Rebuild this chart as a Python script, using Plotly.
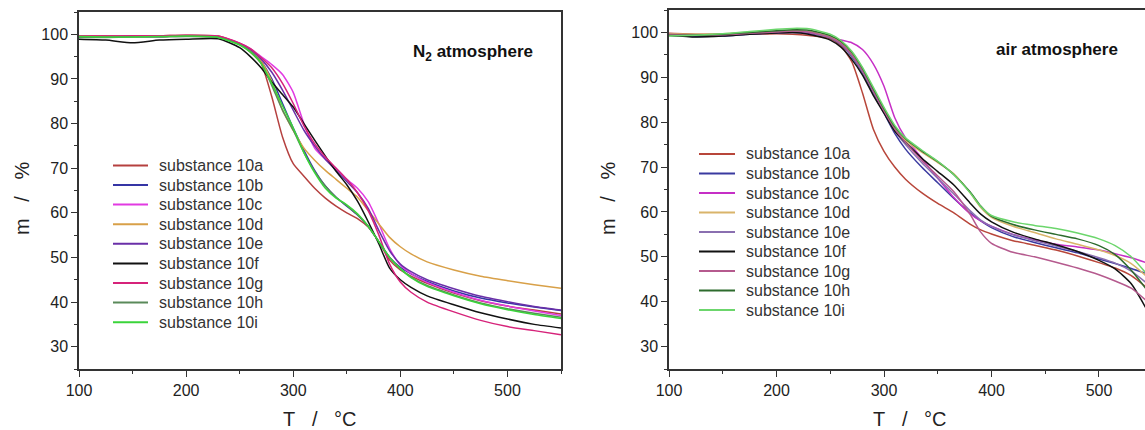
import plotly.graph_objects as go

W, H = 1145, 430

labels = ["substance 10a", "substance 10b", "substance 10c", "substance 10d", "substance 10e",
          "substance 10f", "substance 10g", "substance 10h", "substance 10i"]

# N2 atmosphere
t_n2 = [100, 125, 150, 175, 200, 230, 250, 260, 270, 280, 290, 300, 310, 320, 330, 340, 350,
        360, 370, 380, 390, 400, 410, 425, 450, 475, 500, 525, 550]
n2_10a = [99.6, 99.7, 99.7, 99.7, 99.8, 99.6, 97.8, 96.0, 93.5, 86.0, 77.0, 71.0, 68.2, 65.5, 63.3,
          61.5, 60.0, 58.7, 56.8, 53.5, 49.4, 47.2, 45.8, 44.2, 42.0, 40.3, 39.1, 38.2, 37.3]
n2_10b = [99.4, 99.4, 99.5, 99.5, 99.6, 99.3, 97.8, 96.5, 94.0, 90.0, 84.5, 79.0, 74.0, 69.5, 66.0,
          63.5, 61.5, 59.5, 57.0, 53.5, 50.0, 47.8, 46.3, 44.6, 42.5, 40.9, 39.8, 38.9, 38.1]
n2_10c = [99.5, 99.5, 99.6, 99.6, 99.7, 99.5, 98.0, 96.8, 95.0, 93.2, 91.0, 87.0, 80.0, 74.5, 72.0,
          70.0, 67.5, 65.5, 62.5, 57.5, 52.0, 48.3, 46.4, 44.4, 42.2, 40.4, 39.1, 38.0, 37.0]
n2_10d = [99.5, 99.5, 99.5, 99.6, 99.6, 99.4, 97.9, 96.5, 94.0, 89.5, 83.0, 78.5, 74.5, 71.8, 69.5,
          67.5, 65.5, 63.5, 60.5, 57.5, 54.5, 52.4, 50.8, 49.0, 47.2, 45.8, 44.8, 43.9, 43.1]
n2_10e = [99.4, 99.4, 99.5, 99.5, 99.6, 99.4, 97.9, 96.6, 94.5, 91.5, 87.5, 83.0, 78.5, 75.0, 72.0,
          69.5, 67.0, 64.5, 61.0, 56.0, 51.5, 48.5, 46.8, 45.0, 43.0, 41.3, 40.1, 39.0, 38.2]
n2_10f = [98.9, 98.7, 98.1, 98.7, 98.9, 99.0, 97.0, 95.0, 92.5, 89.3, 86.5, 83.7, 80.0, 76.3, 72.7,
          69.3, 66.3, 62.6, 58.0, 53.0, 47.6, 45.0, 43.3, 41.4, 39.4, 37.6, 36.2, 35.0, 34.2]
n2_10g = [99.6, 99.6, 99.7, 99.7, 99.8, 99.6, 98.0, 96.8, 94.8, 92.5, 89.0, 84.5, 79.5, 75.5, 72.5,
          70.0, 67.5, 64.5, 60.5, 55.0, 48.5, 44.5, 42.2, 40.0, 37.8, 35.9, 34.5, 33.6, 32.7]
n2_10h = [99.3, 99.3, 99.4, 99.4, 99.5, 99.3, 97.7, 96.2, 93.6, 88.5, 83.0, 78.5, 73.5, 69.3, 66.0,
          63.5, 61.6, 59.6, 57.0, 53.5, 50.0, 47.5, 45.6, 43.7, 41.6, 39.8, 38.5, 37.5, 36.6]
n2_10i = [99.5, 99.4, 99.4, 99.5, 99.6, 99.3, 97.6, 96.0, 93.5, 89.0, 84.0, 79.0, 73.5, 69.0, 65.5,
          63.3, 61.8, 59.8, 57.0, 53.5, 50.0, 47.5, 45.5, 43.5, 41.4, 39.6, 38.3, 37.2, 36.3]

# air atmosphere
t_air = [100, 125, 150, 175, 200, 215, 230, 250, 260, 270, 280, 290, 300, 310, 320, 335, 350,
         365, 380, 390, 400, 420, 440, 460, 480, 500, 515, 530, 545]
air_10a = [99.8, 99.6, 99.6, 99.6, 99.7, 99.6, 99.3, 98.6, 97.0, 93.5, 86.5, 78.5, 73.5, 70.0, 67.3,
           64.3, 61.9, 59.8, 57.3, 56.0, 55.1, 53.6, 52.6, 51.5, 50.2, 48.7, 47.5, 45.8, 43.0]
air_10b = [99.4, 99.1, 99.2, 99.6, 99.9, 100.0, 99.8, 98.8, 97.3, 94.6, 91.0, 86.5, 82.0, 77.5, 74.0,
           70.0, 66.5, 63.0, 59.8, 58.0, 56.5, 54.5, 53.2, 52.0, 50.9, 49.5, 48.5, 47.4, 46.2]
air_10c = [99.6, 99.5, 99.6, 99.8, 100.0, 100.1, 99.9, 99.0, 98.3, 97.7, 96.2, 93.0, 88.0, 81.0, 76.5,
           72.0, 67.5, 63.2, 59.6, 58.0, 56.8, 55.0, 53.8, 52.8, 52.2, 51.5, 50.7, 49.8, 48.6]
air_10d = [99.7, 99.6, 99.7, 99.9, 100.2, 100.4, 100.2, 99.0, 97.8, 95.2, 91.5, 87.0, 82.5, 78.5, 76.0,
           73.3, 71.0, 68.5, 64.3, 61.0, 58.8, 56.8, 55.4, 54.0, 52.8, 51.5, 50.3, 48.5, 45.5]
air_10e = [99.5, 99.3, 99.4, 99.8, 100.1, 100.2, 100.0, 98.8, 97.4, 94.8, 91.2, 86.8, 82.3, 78.0, 75.0,
           71.0, 67.5, 64.0, 60.3, 58.2, 56.8, 54.9, 53.6, 52.4, 51.2, 49.8, 48.6, 46.8, 44.0]
air_10f = [99.4, 99.0, 99.2, 99.6, 99.9, 100.0, 99.6, 98.3, 96.7, 94.0, 90.5, 86.0, 82.0, 78.0, 75.5,
           72.0, 69.0, 66.0, 62.0, 59.5, 57.8, 55.5, 54.0, 52.7, 51.2, 49.2, 47.3, 44.0, 38.0]
air_10g = [99.6, 99.4, 99.5, 99.8, 100.1, 100.3, 100.1, 98.9, 97.5, 95.0, 91.5, 87.0, 82.5, 78.5, 75.5,
           71.5, 68.0, 64.5, 59.5, 55.5, 53.0, 51.0, 50.0, 48.8, 47.5, 46.0, 44.6, 43.0, 40.0]
air_10h = [99.3, 99.4, 99.6, 100.0, 100.4, 100.6, 100.5, 99.3, 98.0, 95.6, 92.0, 87.5, 83.0, 79.0, 76.3,
           73.6, 71.2, 68.3, 64.5, 61.3, 59.0, 57.2, 56.0, 55.0, 54.0, 52.5, 50.5, 47.0, 42.5]
air_10i = [99.2, 99.4, 99.7, 100.2, 100.7, 100.9, 100.8, 99.6, 98.2, 95.8, 92.2, 87.8, 83.3, 79.3, 76.5,
           73.8, 71.3, 68.3, 64.3, 61.2, 59.2, 57.8, 57.0, 56.3, 55.3, 54.0, 52.5, 50.0, 46.0]

n2_series = [n2_10a, n2_10b, n2_10c, n2_10d, n2_10e, n2_10f, n2_10g, n2_10h, n2_10i]
air_series = [air_10a, air_10b, air_10c, air_10d, air_10e, air_10f, air_10g, air_10h, air_10i]

n2_colors = ["#b5403f", "#3535a5", "#e23ae2", "#d8a048", "#6a2fa8", "#111111", "#d6237a", "#5a8a5a", "#3ad43a"]
air_colors = ["#b8463a", "#3a3aa0", "#c62fc6", "#d9b46a", "#8a6fb0", "#111111", "#b55a8e", "#2d6b2d", "#6cd66c"]

fig = go.Figure()
for name, ys, c in zip(labels, n2_series, n2_colors):
    fig.add_trace(go.Scatter(x=t_n2, y=ys, name=name, mode="lines",
                             line=dict(color=c, width=1.5, shape="spline", smoothing=0.6),
                             xaxis="x", yaxis="y", showlegend=False))
for name, ys, c in zip(labels, air_series, air_colors):
    fig.add_trace(go.Scatter(x=t_air, y=ys, name=name, mode="lines",
                             line=dict(color=c, width=1.5, shape="spline", smoothing=0.6),
                             xaxis="x2", yaxis="y2", showlegend=False))

font = "Liberation Sans, Arial, sans-serif"
axcol = "#333333"

def xax(domain, rng, anchor):
    return dict(domain=domain, range=rng, anchor=anchor, tick0=100, dtick=100, ticks="outside", ticklen=6,
                tickwidth=1.3, tickcolor=axcol, showline=True, linecolor=axcol, linewidth=1.5, mirror=True,
                showgrid=False, zeroline=False, automargin=False, tickfont=dict(size=16, color="#222"),
                minor=dict(dtick=50, ticks="outside", ticklen=3, tickcolor=axcol, showgrid=False))

def yax(domain, anchor, mirror):
    return dict(domain=domain, range=[25, 105], tick0=30, dtick=10, ticks="outside", ticklen=6, tickwidth=1.3,
                tickcolor=axcol, showline=True, linecolor=axcol, linewidth=1.5, mirror=mirror, anchor=anchor,
                showgrid=False, zeroline=False, automargin=False, tickfont=dict(size=16, color="#222"),
                minor=dict(dtick=5, ticks="outside", ticklen=3, tickcolor=axcol, showgrid=False))

# hand-drawn legends (row spacing of the original is tighter than plotly's legend allows)
shapes = []
annotations = []
legend_spots = [(113, 148, 157, 165.4, 19.6, n2_colors), (699, 735, 744, 154.0, 19.5, air_colors)]
for x0, x1, xt, ytop, step, cols in legend_spots:
    for k, (name, c) in enumerate(zip(labels, cols)):
        yy = 1 - (ytop + k * step) / H
        shapes.append(dict(type="line", xref="paper", yref="paper", x0=x0 / W, x1=x1 / W, y0=yy, y1=yy,
                           line=dict(color=c, width=2)))
        annotations.append(dict(text=name, x=xt / W, y=yy, xref="paper", yref="paper", xanchor="left",
                                yanchor="middle", showarrow=False, font=dict(size=16, color="#333")))

nb = "\u00a0\u00a0\u00a0"
def note(text, px, py, size, angle=0, color="#222"):
    return dict(text=text, x=px / W, y=1 - py / H, xref="paper", yref="paper", xanchor="center",
                yanchor="middle", showarrow=False, textangle=angle, font=dict(size=size, color=color))

annotations += [
    note("<b>N<sub>2</sub> atmosphere</b>", 473, 53, 17, color="#111"),
    note("<b>air atmosphere</b>", 1057, 50, 17, color="#111"),
    note("T" + nb + "/" + nb + "°C", 320, 419, 20),
    note("T" + nb + "/" + nb + "°C", 910, 419, 20),
    note("m" + nb + "/" + nb + "%", 22, 198, 20, angle=-90),
    note("m" + nb + "/" + nb + "%", 608, 198, 20, angle=-90),
]

fig.update_layout(
    width=W, height=H,
    margin=dict(l=0, r=0, t=0, b=0, autoexpand=False),
    paper_bgcolor="white", plot_bgcolor="white",
    font=dict(family=font, color="#222"),
    showlegend=False,
    xaxis=xax([79 / W, 561 / W], [100, 550], "y"),
    yaxis=yax([61 / H, 418 / H], "x", True),
    xaxis2=xax([669 / W, 1.0], [100, 542.8], "y2"),
    yaxis2=yax([61 / H, 420 / H], "x2", False),
    shapes=shapes,
    annotations=annotations,
)

# drop the browser's default 8px page margin so the figure sits at the top-left corner
fig.write_html("out.html", config={"displayModeBar": False},
               post_script="document.body.style.margin='0';")
